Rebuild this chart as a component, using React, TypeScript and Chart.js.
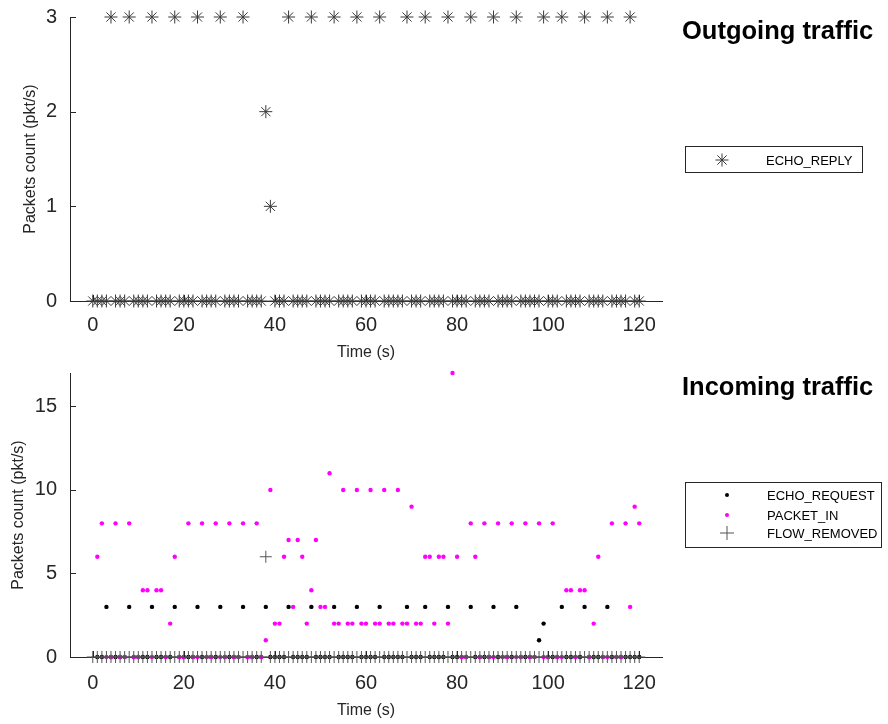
import React, { useEffect, useRef } from 'react';
import { Chart, registerables } from 'chart.js';

Chart.register(...registerables);

const FONT = "'Liberation Sans', Arial, Helvetica, sans-serif";
const AXIS = '#262626';

const seconds = [
  0, 1, 2, 3, 4, 5, 6, 7, 8, 9, 10, 11, 12, 13, 14, 15, 16, 17, 18, 19,
  20, 21, 22, 23, 24, 25, 26, 27, 28, 29, 30, 31, 32, 33, 34, 35, 36, 37, 38, 39,
  40, 41, 42, 43, 44, 45, 46, 47, 48, 49, 50, 51, 52, 53, 54, 55, 56, 57, 58, 59,
  60, 61, 62, 63, 64, 65, 66, 67, 68, 69, 70, 71, 72, 73, 74, 75, 76, 77, 78, 79,
  80, 81, 82, 83, 84, 85, 86, 87, 88, 89, 90, 91, 92, 93, 94, 95, 96, 97, 98, 99,
  100, 101, 102, 103, 104, 105, 106, 107, 108, 109, 110, 111, 112, 113, 114, 115, 116, 117, 118, 119,
  120,
];

// Outgoing: ECHO_REPLY (pkt/s) per second
const echoReply = [
  0, 0, 0, 0, 3, 0, 0, 0, 3, 0, 0, 0, 0, 3, 0, 0, 0, 0, 3, 0,
  0, 0, 0, 3, 0, 0, 0, 0, 3, 0, 0, 0, 0, 3, 0, 0, 0, 0, 2, 1,
  0, 0, 0, 3, 0, 0, 0, 0, 3, 0, 0, 0, 0, 3, 0, 0, 0, 0, 3, 0,
  0, 0, 0, 3, 0, 0, 0, 0, 0, 3, 0, 0, 0, 3, 0, 0, 0, 0, 3, 0,
  0, 0, 0, 3, 0, 0, 0, 0, 3, 0, 0, 0, 0, 3, 0, 0, 0, 0, 0, 3,
  0, 0, 0, 3, 0, 0, 0, 0, 3, 0, 0, 0, 0, 3, 0, 0, 0, 0, 3, 0,
  0,
];

// Incoming
const echoRequest = [
  null, 0, 0, 3, 0, 0, 0, 0, 3, 0, 0, 0, 0, 3, 0, 0, 0, 0, 3, 0,
  0, 0, 0, 3, 0, 0, 0, 0, 3, 0, 0, 0, 0, 3, 0, 0, 0, 0, 3, 0,
  0, 0, 0, 3, 0, 0, 0, 0, 3, 0, 0, 0, 0, 3, 0, 0, 0, 0, 3, 0,
  0, 0, 0, 3, 0, 0, 0, 0, 0, 3, 0, 0, 0, 3, 0, 0, 0, 0, 3, 0,
  0, 0, 0, 3, 0, 0, 0, 0, 3, 0, 0, 0, 0, 3, 0, 0, 0, 0, 1, 2,
  0, 0, 0, 3, 0, 0, 0, 0, 3, 0, 0, 0, 0, 3, 0, 0, 0, 0, 0, 0,
  0,
];

const packetIn = [
  null, 6, 8, 0, 0, 8, 0, 0, 8, 0, 0, 4, 4, 0, 4, 4, 0, 2, 6, 0,
  0, 8, 0, 0, 8, 0, 0, 8, 0, 0, 8, 0, 0, 8, 0, 0, 8, 0, 1, 10,
  2, 2, 6, 7, 3, 7, 6, 2, 4, 7, 3, 3, 11, 2, 2, 10, 2, 2, 10, 2,
  2, 10, 2, 2, 10, 2, 2, 10, 2, 2, 9, 2, 2, 6, 6, 2, 6, 6, 2, 17,
  6, 0, 0, 8, 6, 0, 8, 0, 0, 8, 0, 0, 8, 0, 0, 8, 0, 0, 8, 0,
  0, 8, 0, 0, 4, 4, 0, 4, 4, 0, 2, 6, 0, 0, 8, 0, 0, 8, 3, 9,
  8,
];

const flowRemoved = [
  0, 0, 0, 0, 0, 0, 0, 0, 0, 0, 0, 0, 0, 0, 0, 0, 0, 0, 0, 0,
  0, 0, 0, 0, 0, 0, 0, 0, 0, 0, 0, 0, 0, 0, 0, 0, 0, 0, 6, 0,
  0, 0, 0, 0, 0, 0, 0, 0, 0, 0, 0, 0, 0, 0, 0, 0, 0, 0, 0, 0,
  0, 0, 0, 0, 0, 0, 0, 0, 0, 0, 0, 0, 0, 0, 0, 0, 0, 0, 0, 0,
  0, 0, 0, 0, 0, 0, 0, 0, 0, 0, 0, 0, 0, 0, 0, 0, 0, 0, 0, 0,
  0, 0, 0, 0, 0, 0, 0, 0, 0, 0, 0, 0, 0, 0, 0, 0, 0, 0, 0, 0,
  0,
];

const xTicks = [0, 20, 40, 60, 80, 100, 120];
const topYTicks = [0, 1, 2, 3];
const bottomYTicks = [0, 5, 10, 15];

function toPoints(values: (number | null)[]) {
  const pts: { x: number; y: number }[] = [];
  seconds.forEach((t, i) => {
    const v = values[i];
    if (v !== null && v !== undefined) pts.push({ x: t, y: v });
  });
  return pts;
}

const inwardTicks = {
  id: 'inwardTicks',
  afterDatasetsDraw(chart: any) {
    const { ctx, chartArea, scales } = chart;
    ctx.save();
    ctx.strokeStyle = AXIS;
    ctx.lineWidth = 1;
    const xs = scales.x;
    const ys = scales.y;
    xs.ticks.forEach((t: any) => {
      const px = Math.round(xs.getPixelForValue(t.value)) + 0.5;
      ctx.beginPath();
      ctx.moveTo(px, chartArea.bottom);
      ctx.lineTo(px, chartArea.bottom - 6);
      ctx.stroke();
    });
    ys.ticks.forEach((t: any) => {
      const py = Math.round(ys.getPixelForValue(t.value)) + 0.5;
      ctx.beginPath();
      ctx.moveTo(chartArea.left, py);
      ctx.lineTo(chartArea.left + 6, py);
      ctx.stroke();
    });
    ctx.restore();
  },
};

function makeOptions(cfg: {
  yMax: number;
  yTicks: number[];
  padTop: number;
  xHeight: number;
  xTickPad: number;
  xTitlePad: number;
  yTitlePad: number;
}) {
  return {
    responsive: false,
    animation: false as const,
    events: [],
    layout: { autoPadding: false, padding: { left: 0, right: 226, top: cfg.padTop, bottom: 0 } },
    plugins: { legend: { display: false }, tooltip: { enabled: false } },
    scales: {
      x: {
        type: 'linear' as const,
        min: -5,
        max: 125,
        afterBuildTicks: (s: any) => {
          s.ticks = xTicks.map((v) => ({ value: v }));
        },
        afterFit: (s: any) => {
          s.height = cfg.xHeight;
          s.paddingLeft = 0;
          s.paddingRight = 0;
        },
        grid: { display: false, drawTicks: false },
        border: { display: true, color: AXIS, width: 1 },
        ticks: {
          font: { family: FONT, size: 20 },
          color: AXIS,
          padding: cfg.xTickPad,
          maxRotation: 0,
          autoSkip: false,
        },
        title: {
          display: true,
          text: 'Time (s)',
          font: { family: FONT, size: 16 },
          color: AXIS,
          padding: { top: 0, bottom: cfg.xTitlePad },
        },
      },
      y: {
        type: 'linear' as const,
        min: 0,
        max: cfg.yMax,
        afterBuildTicks: (s: any) => {
          s.ticks = cfg.yTicks.map((v) => ({ value: v }));
        },
        afterFit: (s: any) => {
          s.width = 70;
          s.paddingTop = 0;
          s.paddingBottom = 0;
        },
        grid: { display: false, drawTicks: false },
        border: { display: true, color: AXIS, width: 1 },
        ticks: {
          font: { family: FONT, size: 20 },
          color: AXIS,
          padding: 13,
          autoSkip: false,
        },
        title: {
          display: true,
          text: 'Packets count (pkt/s)',
          font: { family: FONT, size: 16 },
          color: AXIS,
          padding: { top: cfg.yTitlePad, bottom: 0 },
        },
      },
    },
  };
}

export default function App() {
  const topRef = useRef<HTMLCanvasElement>(null);
  const botRef = useRef<HTMLCanvasElement>(null);

  useEffect(() => {
    const top = new Chart(topRef.current as HTMLCanvasElement, {
      type: 'scatter',
      data: {
        datasets: [
          {
            label: 'ECHO_REPLY',
            data: toPoints(echoReply),
            pointStyle: 'star',
            pointRadius: 6.5,
            pointBorderColor: '#3a3a3a',
            pointBorderWidth: 1,
            pointBackgroundColor: 'rgba(0,0,0,0)',
            showLine: false,
            clip: false,
          } as any,
        ],
      },
      options: makeOptions({
        yMax: 3,
        yTicks: topYTicks,
        padTop: 17,
        xHeight: 61,
        xTickPad: 12,
        xTitlePad: 0,
        yTitlePad: 21,
      }) as any,
      plugins: [inwardTicks],
    });

    const bottom = new Chart(botRef.current as HTMLCanvasElement, {
      type: 'scatter',
      data: {
        datasets: [
          {
            label: 'ECHO_REQUEST',
            data: toPoints(echoRequest),
            pointStyle: 'circle',
            pointRadius: 2.2,
            pointBorderWidth: 0,
            pointBackgroundColor: '#000000',
            pointBorderColor: '#000000',
            showLine: false,
            clip: false,
            order: 2,
          } as any,
          {
            label: 'PACKET_IN',
            data: toPoints(packetIn),
            pointStyle: 'circle',
            pointRadius: 2.2,
            pointBorderWidth: 0,
            pointBackgroundColor: '#ff00ff',
            pointBorderColor: '#ff00ff',
            showLine: false,
            clip: false,
            order: 1,
          } as any,
          {
            label: 'FLOW_REMOVED',
            data: toPoints(flowRemoved),
            pointStyle: 'cross',
            pointRadius: 6,
            pointBorderWidth: 1,
            pointBorderColor: '#555555',
            pointBackgroundColor: 'rgba(0,0,0,0)',
            showLine: false,
            clip: false,
            order: 0,
          } as any,
        ],
      },
      options: makeOptions({
        yMax: 17,
        yTicks: bottomYTicks,
        padTop: 11,
        xHeight: 67,
        xTickPad: 14,
        xTitlePad: 4,
        yTitlePad: 9,
      }) as any,
      plugins: [inwardTicks],
    });

    return () => {
      top.destroy();
      bottom.destroy();
    };
  }, []);

  const starLines = (cx: number, cy: number, r: number) => {
    const d = r * Math.SQRT1_2;
    return (
      <g stroke="#3a3a3a" strokeWidth={1}>
        <line x1={cx - r} y1={cy} x2={cx + r} y2={cy} />
        <line x1={cx} y1={cy - r} x2={cx} y2={cy + r} />
        <line x1={cx - d} y1={cy - d} x2={cx + d} y2={cy + d} />
        <line x1={cx - d} y1={cy + d} x2={cx + d} y2={cy - d} />
      </g>
    );
  };

  return (
    <div style={{ position: 'absolute', left: 0, top: 0, width: 888, height: 724, background: '#fff' }}>
      <canvas
        ref={topRef}
        width={888}
        height={362}
        style={{ position: 'absolute', left: 0, top: 0, width: 888, height: 362 }}
      />
      <canvas
        ref={botRef}
        width={888}
        height={362}
        style={{ position: 'absolute', left: 0, top: 362, width: 888, height: 362 }}
      />
      <svg
        width={888}
        height={724}
        style={{ position: 'absolute', left: 0, top: 0, pointerEvents: 'none' }}
      >
        <text x={682} y={30} dominantBaseline="central" fontFamily={FONT} fontWeight="bold" fontSize={25.5} fill="#000">
          Outgoing traffic
        </text>
        <text x={682} y={386} dominantBaseline="central" fontFamily={FONT} fontWeight="bold" fontSize={25.5} fill="#000">
          Incoming traffic
        </text>

        <rect x={685.5} y={146.5} width={177} height={26} fill="#fff" stroke={AXIS} strokeWidth={1} />
        {starLines(722, 160, 6.5)}
        <text x={766} y={160} dominantBaseline="central" fontFamily={FONT} fontSize={13} fill="#000">
          ECHO_REPLY
        </text>

        <rect x={685.5} y={482.5} width={196} height={65} fill="#fff" stroke={AXIS} strokeWidth={1} />
        <circle cx={727} cy={495} r={2} fill="#000" />
        <text x={767} y={495} dominantBaseline="central" fontFamily={FONT} fontSize={13} fill="#000">
          ECHO_REQUEST
        </text>
        <circle cx={727} cy={515} r={2} fill="#ff00ff" />
        <text x={767} y={515} dominantBaseline="central" fontFamily={FONT} fontSize={13} fill="#000">
          PACKET_IN
        </text>
        <g stroke="#555" strokeWidth={1}>
          <line x1={720} y1={533} x2={734} y2={533} />
          <line x1={727} y1={526} x2={727} y2={540} />
        </g>
        <text x={767} y={533} dominantBaseline="central" fontFamily={FONT} fontSize={13} fill="#000">
          FLOW_REMOVED
        </text>
      </svg>
    </div>
  );
}
